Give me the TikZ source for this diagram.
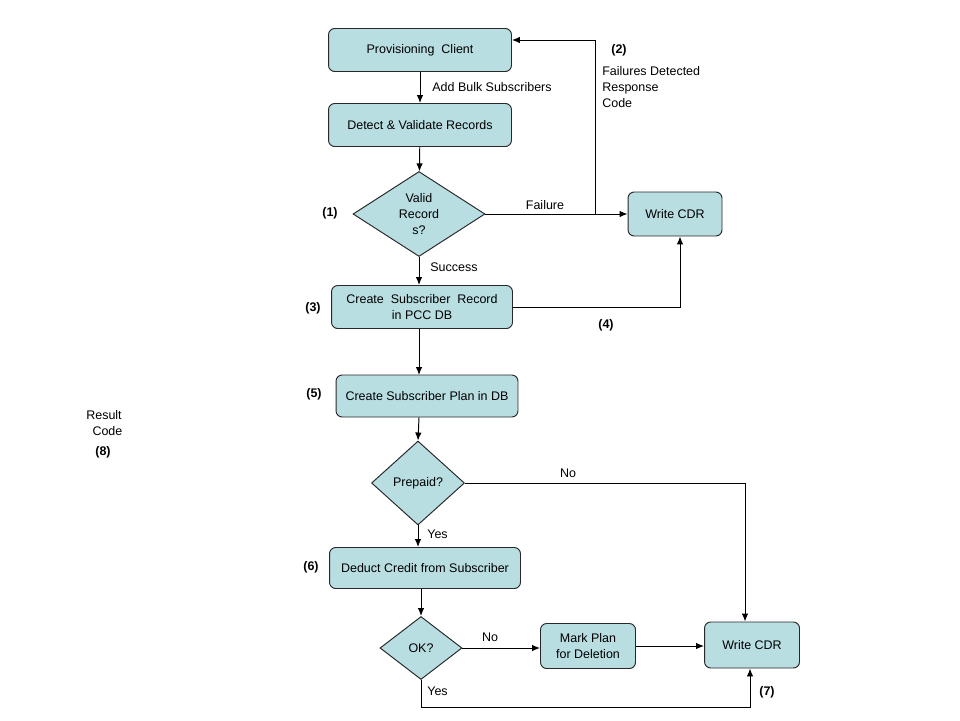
\documentclass[tikz,border=0pt]{standalone}
\usepackage{fontspec}
\setmainfont{Liberation Sans}
\usepackage{xcolor}
\usepackage{tikz}
\usetikzlibrary{
  arrows.meta,
  calc,
  positioning,
  shapes.geometric
}
\definecolor{stepfill}{RGB}{184,222,226}
\definecolor{stepline}{RGB}{40,40,40}
\tikzset{
  flow/.style={ font=\fontsize{7.1pt}{9.07pt}\selectfont },
  procbox/.style={
    rounded corners=3.5pt,
    draw=stepline,
    fill=stepfill,
    line width=0.55pt,
    align=center,
    inner sep=2pt
  },
  decision/.style={
    diamond,
    draw=stepline,
    fill=stepfill,
    line width=0.55pt,
    align=center,
    inner sep=0pt
  },
  arrow/.style={
    -{Latex[length=1.6mm,width=1.3mm]},
    line width=0.55pt,
    draw=black
  },
  note/.style={ align=left, inner sep=0pt },
  stepno/.style={ font=\fontsize{7.1pt}{9.07pt}\selectfont\bfseries, inner sep=0pt }
}

\begin{document}
\begin{tikzpicture}[flow, x=0.02cm, y=-0.02cm]
  \useasboundingbox (0,0) rectangle (960,720);
  % boxes and decisions
  \node[procbox, minimum width=3.66cm, minimum height=0.86cm] (client) at (420,50) {Provisioning\ \ Client};
  \node[procbox, minimum width=3.66cm, minimum height=0.86cm] (detect) at (420,125) {Detect \& Validate Records};
  \node[decision, minimum width=2.64cm, minimum height=1.7cm] (valid) at (419,214) {Valid\\Record\\s?};
  \node[procbox, minimum width=1.88cm, minimum height=0.88cm] (cdrA) at (675,214) {Write CDR};
  \node[procbox, minimum width=3.62cm, minimum height=0.86cm] (record) at (422,307) {Create\ \ Subscriber\ \ Record\\in PCC DB};
  \node[procbox, minimum width=3.64cm, minimum height=0.84cm] (plan) at (427,396) {Create\ Subscriber\ Plan in DB};
  \node[decision, minimum width=1.86cm, minimum height=1.68cm] (prepaid) at (418,483) {Prepaid?};
  \node[procbox, minimum width=3.82cm, minimum height=0.82cm] (deduct) at (425,568) {Deduct\ Credit\ from\ Subscriber};
  \node[decision, minimum width=1.64cm, minimum height=1.26cm] (ok) at (421,648) {OK?};
  \node[procbox, minimum width=1.9cm, minimum height=0.9cm] (mark) at (588,646) {Mark Plan\\for Deletion};
  \node[procbox, minimum width=1.9cm, minimum height=0.92cm] (cdrB) at (752,645) {Write CDR};

  % free ends
  \coordinate (fb) at (595,214);

  % connectors
  \draw[arrow] (client) -- (detect);
  \draw[arrow] (detect) -- (valid);
  \draw[arrow] (valid.east) -- (cdrA.west);
  \draw[arrow] (fb) |- ([yshift=0.2cm]client.east);
  \draw[arrow] (valid.south) -- (valid.south |- record.north);
  \draw[arrow] (record.east) -| ([xshift=0.1cm]cdrA.south);
  \draw[arrow] (record.south -| 419,0) -- (419,375);
  \draw[arrow] (plan.south -| 419,0) -- (prepaid.north);
  \draw[arrow] (prepaid.east) -| ([xshift=-0.14cm]cdrB.north);
  \draw[arrow] (prepaid.south) -- (prepaid.south |- deduct.north);
  \draw[arrow] (deduct.south -| ok.north) -- (ok.north);
  \draw[arrow] (ok.east) -- (ok.east -| mark.west);
  \draw[arrow] (mark.east) -- (mark.east -| cdrB.west);
  \draw[arrow] (ok.south) -- ++(0,27) -| ([xshift=-0.04cm]cdrB.south);

  % connector labels
  \node[note, anchor=west] (lbladd) at (432,87) {Add Bulk Subscribers};
  \node[note] (lblfail) at (545,205) {Failure};
  \node[note, anchor=west] (lblsucc) at (430,267) {Success};
  \node[note] (lblno1) at (568,473) {No};
  \node[note, anchor=west] (lblyes1) at (427,534) {Yes};
  \node[note] (lblno2) at (490,637) {No};
  \node[note, anchor=west] (lblyes2) at (427,691) {Yes};
  \node[note, anchor=north west] (lblresp) at (602,66) {Failures Detected\\Response\\Code};
  \node[note, align=center] (lblresult) at (104,423) {Result\\\ \ Code};

  % step numbers
  \node[stepno] (s1) at (330,213) {(1)};
  \node[stepno] (s2) at (619,50) {(2)};
  \node[stepno] (s3) at (313,308) {(3)};
  \node[stepno] (s4) at (606,325) {(4)};
  \node[stepno] (s5) at (314,394) {(5)};
  \node[stepno] (s6) at (311,567) {(6)};
  \node[stepno] (s7) at (767,692) {(7)};
  \node[stepno] (s8) at (103,452) {(8)};
\end{tikzpicture}
\end{document}
